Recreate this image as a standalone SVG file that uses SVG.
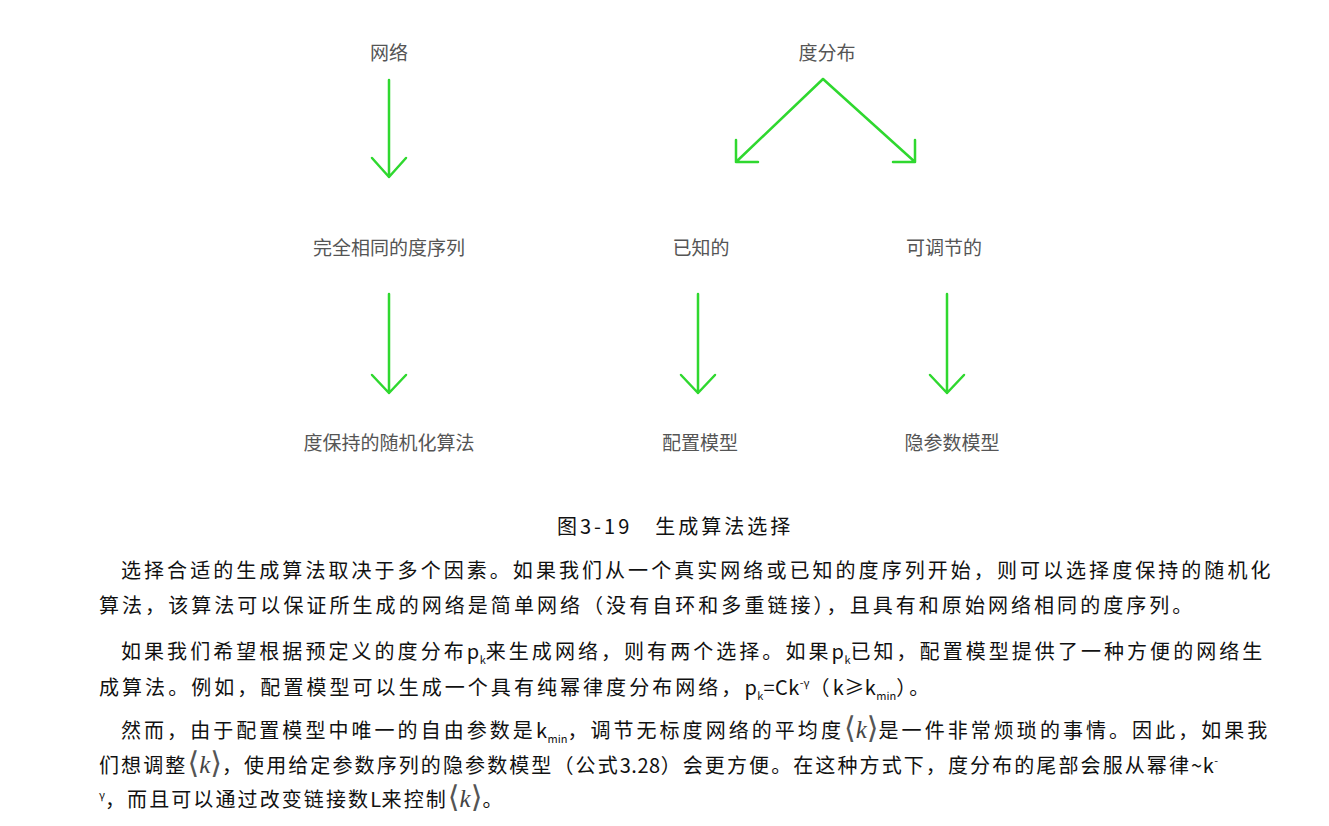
<svg xmlns="http://www.w3.org/2000/svg" width="1329" height="826" viewBox="0 0 1329 826">
<style>
.lbl{font-family:"Noto Sans CJK SC","Noto Sans",sans-serif;font-size:19px;fill:#555;text-anchor:middle}
.arr{stroke:#2fd82f;stroke-width:2.5;fill:none;stroke-linecap:round;stroke-linejoin:round}
.body{font-family:"Noto Sans CJK SC","Liberation Sans",sans-serif;font-size:20px;fill:#111;letter-spacing:3.05px}
.tight{letter-spacing:2.1px}
.cap{font-family:"Noto Sans CJK SC","Liberation Sans",sans-serif;font-size:20px;fill:#111;letter-spacing:3px}
.lt{letter-spacing:0.5px}
.sub{font-size:11px;letter-spacing:0}
.br{font-family:"DejaVu Sans",sans-serif;font-size:30px;fill:#555;letter-spacing:0}
.kk{font-family:"Liberation Serif",serif;font-style:italic;font-size:25px;fill:#444;letter-spacing:0}
</style>
<rect width="1329" height="826" fill="#fff"/>
<g id="n-wangluo"><text class="lbl" x="389" y="60">网络</text></g>
<g id="n-dufenbu"><text class="lbl" x="827" y="60">度分布</text></g>
<g id="n-wanquan"><text class="lbl" x="389" y="255">完全相同的度序列</text></g>
<g id="n-yizhi"><text class="lbl" x="701" y="255">已知的</text></g>
<g id="n-ketiao"><text class="lbl" x="944" y="255">可调节的</text></g>
<g id="n-dubaochi"><text class="lbl" x="389" y="450">度保持的随机化算法</text></g>
<g id="n-peizhi"><text class="lbl" x="700" y="450">配置模型</text></g>
<g id="n-yincanshu"><text class="lbl" x="952" y="450">隐参数模型</text></g>
<g id="connectors">
<path class="arr" d="M389 80 V177 M372 158 L389 177 L406 158"/>
<path class="arr" d="M823 79 L736 162 M736 140 V162 H758"/>
<path class="arr" d="M823 79 L915 162 M915 140 V162 H893"/>
<path class="arr" d="M389 294 V393 M372 375 L389 393 L406 375"/>
<path class="arr" d="M698 294 V393 M681 375 L698 393 L715 375"/>
<path class="arr" d="M947 294 V393 M930 375 L947 393 L964 375"/>
</g>
<text class="cap" x="557" y="534">图3-19　生成算法选择</text>
<text class="body" x="121" y="578">选择合适的生成算法取决于多个因素。如果我们从一个真实网络或已知的度序列开始，则可以选择度保持的随机化</text>
<text class="body" x="99" y="613">算法，该算法可以保证所生成的网络是简单网络（没有自环和多重链接），且具有和原始网络相同的度序列。</text>
<text class="body" x="121" y="659">如果我们希望根据预定义的度分布<tspan class="lt">p</tspan><tspan class="sub" dy="5">k</tspan><tspan dy="-5">来生成网络，则有两个选择。如果</tspan><tspan class="lt">p</tspan><tspan class="sub" dy="5">k</tspan><tspan dy="-5">已知，配置模型提供了一种方便的网络生</tspan></text>
<text class="body" x="99" y="695">成算法。例如，配置模型可以生成一个具有纯幂律度分布网络，<tspan class="lt">p</tspan><tspan class="sub" dy="5">k</tspan><tspan class="lt" dy="-5">=Ck</tspan><tspan class="sub" dy="-8">-γ</tspan><tspan dy="8">（</tspan><tspan class="lt">k≥k</tspan><tspan class="sub" dy="5">min</tspan><tspan dy="-5">）。</tspan></text>
<text class="body" x="121" y="738">然而，由于配置模型中唯一的自由参数是<tspan class="lt">k</tspan><tspan class="sub" dy="5">min</tspan><tspan dy="-5">，调节无标度网络的平均度</tspan><tspan class="br">⟨</tspan><tspan class="kk">k</tspan><tspan class="br">⟩</tspan>是一件非常烦琐的事情。因此，如果我</text>
<text class="body tight" x="99" y="773">们想调整<tspan class="br">⟨</tspan><tspan class="kk">k</tspan><tspan class="br">⟩</tspan>，使用给定参数序列的隐参数模型（公式<tspan class="lt">3.28</tspan>）会更方便。在这种方式下，度分布的尾部会服从幂律<tspan class="lt">~k</tspan><tspan class="sub" dy="-8">-</tspan></text>
<text class="body tight" x="99" y="807"><tspan class="sub" dy="-8">γ</tspan><tspan dy="8">，而且可以通过改变链接数</tspan><tspan class="lt">L</tspan>来控制<tspan class="br">⟨</tspan><tspan class="kk">k</tspan><tspan class="br">⟩</tspan>。</text>
</svg>
